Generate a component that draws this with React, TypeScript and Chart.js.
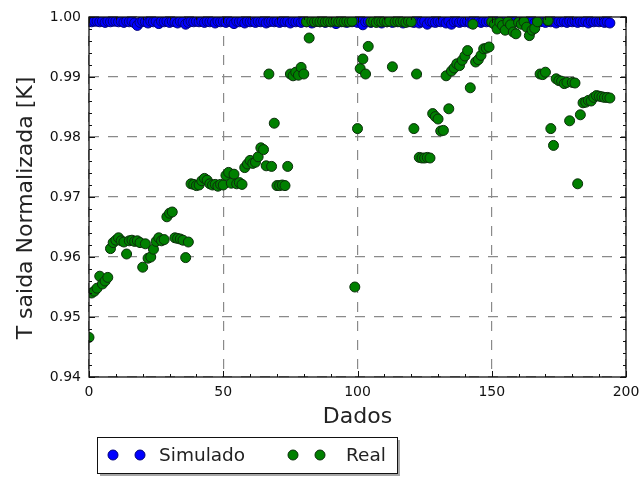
import React, { useEffect, useRef } from "react";
import { Chart, registerables } from "chart.js";

Chart.register(...registerables);

// Simulated normalized outlet temperature, one value per sample (index = sample number)
const simulado: number[] = [
  0.9993, 0.9992, 0.9993, 0.9993, 0.9992, 0.9993, 0.9991, 0.9993, 0.9992, 0.9993,
  0.9993, 0.9992, 0.9993, 0.9991, 0.9993, 0.9992, 0.9993, 0.999, 0.9986, 0.9991,
  0.9993, 0.9992, 0.999, 0.9993, 0.9992, 0.9993, 0.9989, 0.9993, 0.9992, 0.9993,
  0.9991, 0.9993, 0.9992, 0.999, 0.9993, 0.9992, 0.9988, 0.9991, 0.9993, 0.9992,
  0.9993, 0.9992, 0.9993, 0.9991, 0.9993, 0.9992, 0.9993, 0.999, 0.9993, 0.9992,
  0.9993, 0.9991, 0.9993, 0.9992, 0.9989, 0.9993, 0.9992, 0.9993, 0.999, 0.9993,
  0.9992, 0.9993, 0.9991, 0.9993, 0.9992, 0.9993, 0.999, 0.9992, 0.9993, 0.9992,
  0.9993, 0.9991, 0.9993, 0.9992, 0.9993, 0.999, 0.9993, 0.9992, 0.9993, 0.9991,
  0.9993, 0.9992, 0.9993, 0.999, 0.9992, 0.9993, 0.9992, 0.9993, 0.9991, 0.9993,
  0.9992, 0.9993, 0.9989, 0.9993, 0.9992, 0.9993, 0.9991, 0.9993, 0.9992, 0.9993,
  0.9991, 0.9993, 0.9987, 0.9992, 0.9993, 0.9991, 0.9993, 0.9992, 0.9993, 0.999,
  0.9993, 0.9992, 0.9993, 0.9991, 0.9993, 0.9992, 0.9993, 0.999, 0.9993, 0.9992,
  0.9993, 0.9991, 0.9993, 0.999, 0.9992, 0.9993, 0.9988, 0.9993, 0.9992, 0.9991,
  0.9993, 0.9992, 0.9993, 0.999, 0.9993, 0.9988, 0.9992, 0.9993, 0.9991, 0.9993,
  0.9992, 0.9993, 0.999, 0.9993, 0.9992, 0.9993, 0.9991, 0.9993, 0.9992, 0.9993,
  0.9991, 0.9993, 0.9992, 0.9993, 0.999, 0.9993, 0.9992, 0.9993, 0.9991, 0.9993,
  0.9992, 0.9993, 0.9991, 0.9993, 0.9992, 0.9993, 0.999, 0.9993, 0.9992, 0.9993,
  0.9991, 0.9993, 0.9992, 0.9993, 0.999, 0.9993, 0.9992, 0.9993, 0.9991, 0.9993,
  0.9992, 0.9993, 0.9991, 0.9993, 0.9992, 0.9993, 0.999, 0.9993, 0.9992, 0.9993,
  0.9992, 0.9993, 0.9991, 0.9992, 0.999,
];

// Measured normalized outlet temperature
const real: number[] = [
  0.9466, 0.954, 0.9543, 0.9548, 0.9568, 0.9555, 0.956, 0.9566, 0.9614, 0.9624,
  0.9628, 0.9632, 0.9627, 0.9625, 0.9605, 0.9627, 0.9628, 0.9626, 0.9627, 0.9624,
  0.9583, 0.9622, 0.9598, 0.96, 0.9613, 0.9626, 0.9632, 0.9627, 0.9629, 0.9667,
  0.9673, 0.9675, 0.9632, 0.9631, 0.963, 0.9628, 0.9599, 0.9625, 0.9722, 0.9721,
  0.9719, 0.972, 0.9727, 0.9731, 0.9728, 0.9722, 0.972, 0.9721, 0.9718, 0.9721,
  0.972, 0.9736, 0.9741, 0.9723, 0.9738, 0.9722, 0.9724, 0.9721, 0.9749, 0.9755,
  0.9761, 0.9756, 0.9758, 0.9767, 0.9782, 0.9779, 0.9752, 0.9905, 0.9751, 0.9823,
  0.9719, 0.9719, 0.972, 0.9719, 0.9751, 0.9905, 0.9902, 0.9908, 0.9903, 0.9916,
  0.9905, 0.9992, 0.9965, 0.9993, 0.9992, 0.9993, 0.9992, 0.9993, 0.9992, 0.9993,
  0.9992, 0.9993, 0.9993, 0.9992, 0.9993, 0.9992, 0.9993, 0.9992, 0.9993, 0.955,
  0.9814, 0.9914, 0.993, 0.9905, 0.9951, 0.9992, 0.9993, 0.9991, 0.9993, 0.9992,
  0.9993, 0.9992, 0.9993, 0.9917, 0.9992, 0.9993, 0.9992, 0.9993, 0.9991, 0.9993,
  0.9992, 0.9814, 0.9905, 0.9766, 0.9765, 0.9765, 0.9766, 0.9765, 0.9839, 0.9834,
  0.983, 0.981, 0.9811, 0.9902, 0.9847, 0.991, 0.9915, 0.9922, 0.9919, 0.9928,
  0.9935, 0.9944, 0.9882, 0.9988, 0.9925, 0.9929, 0.9936, 0.9947, 0.9948, 0.995,
  0.9992, 0.9988, 0.998, 0.9991, 0.9986, 0.9978, 0.9992, 0.9987, 0.9975, 0.9972,
  0.9991, 0.9988, 0.9992, 0.9983, 0.9969, 0.9978, 0.9981, 0.9992, 0.9905, 0.9904,
  0.9908, 0.9994, 0.9814, 0.9786, 0.9897, 0.9894, 0.9893, 0.9889, 0.9891, 0.9827,
  0.9891, 0.989, 0.9722, 0.9837, 0.9857, 0.9858, 0.9861, 0.986, 0.9866, 0.9869,
  0.9868, 0.9867, 0.9866, 0.9866, 0.9865,
];

const seriesLabels = ["Simulado", "Real"];
const seriesColors = ["#0000ff", "#008000"];
const seriesEdges = ["#00007a", "#0b2e0b"];
const xTitle = "Dados";
const yTitle = "T saida Normalizada [K]";
const xRange = [0, 200];
const yRange = [0.94, 1.0];

const FONT = "'DejaVu Sans', 'Bitstream Vera Sans', sans-serif";

// Frame, inward tick marks, rotated y title and the boxed legend under the axes
const decorations = {
  id: "decorations",
  afterDatasetsDraw(chart: any) {
    const { ctx, chartArea: a, scales } = chart;
    const xs = scales.x;
    const ys = scales.y;
    ctx.save();
    ctx.strokeStyle = "#111";
    ctx.lineWidth = 1;
    ctx.beginPath();
    for (let k = 0; k <= 20; k++) {
      const px = Math.round(xs.getPixelForValue(k * 10)) + 0.5;
      const len = k % 5 === 0 ? 6 : 3;
      ctx.moveTo(px, a.bottom);
      ctx.lineTo(px, a.bottom - len);
      ctx.moveTo(px, a.top);
      ctx.lineTo(px, a.top + len);
    }
    for (let k = 0; k <= 30; k++) {
      const py = Math.round(ys.getPixelForValue(0.94 + k * 0.002)) + 0.5;
      const len = k % 5 === 0 ? 6 : 3;
      ctx.moveTo(a.left, py);
      ctx.lineTo(a.left + len, py);
      ctx.moveTo(a.right, py);
      ctx.lineTo(a.right - len, py);
    }
    ctx.stroke();
    ctx.lineWidth = 1.3;
    ctx.strokeRect(a.left, a.top, a.right - a.left, a.bottom - a.top);
    ctx.restore();
  },
  afterDraw(chart: any) {
    const { ctx } = chart;
    ctx.save();
    // y axis title
    ctx.fillStyle = "#222";
    ctx.font = `22px ${FONT}`;
    ctx.textAlign = "center";
    ctx.textBaseline = "middle";
    ctx.translate(26, 208);
    ctx.rotate(-Math.PI / 2);
    ctx.fillText(yTitle, 0, 0);
    ctx.restore();

    // legend box with shadow
    ctx.save();
    const bx = 97, by = 437, bw = 300, bh = 36;
    ctx.fillStyle = "rgba(0,0,0,0.35)";
    ctx.fillRect(bx + 3, by + 3, bw, bh);
    ctx.fillStyle = "#fff";
    ctx.fillRect(bx, by, bw, bh);
    ctx.strokeStyle = "#111";
    ctx.lineWidth = 1;
    ctx.strokeRect(bx + 0.5, by + 0.5, bw, bh);
    const my = 455;
    const entries = [
      { m: [113, 140], tx: 159 },
      { m: [293, 320], tx: 346 },
    ];
    entries.forEach((e, i) => {
      e.m.forEach((mx) => {
        ctx.beginPath();
        ctx.arc(mx, my, 5, 0, Math.PI * 2);
        ctx.fillStyle = seriesColors[i];
        ctx.fill();
        ctx.strokeStyle = seriesEdges[i];
        ctx.lineWidth = 1;
        ctx.stroke();
      });
      ctx.fillStyle = "#222";
      ctx.font = `18.5px ${FONT}`;
      ctx.textAlign = "left";
      ctx.textBaseline = "middle";
      ctx.fillText(seriesLabels[i], e.tx, my + 1);
    });
    ctx.restore();
  },
};

export default function App() {
  const canvasRef = useRef<HTMLCanvasElement | null>(null);

  useEffect(() => {
    const canvas = canvasRef.current;
    if (!canvas) return;
    const series = [simulado, real];
    const chart = new Chart(canvas, {
      type: "scatter",
      data: {
        datasets: series.map((vals, i) => ({
          label: seriesLabels[i],
          data: vals.map((v, idx) => ({ x: idx, y: v })),
          backgroundColor: seriesColors[i],
          borderColor: seriesEdges[i],
          borderWidth: 1,
          pointRadius: 5,
          pointHoverRadius: 5,
          order: i === 0 ? 1 : 0,
          clip: 0,
        })),
      },
      options: {
        animation: false,
        responsive: false,
        events: [],
        layout: { padding: { left: 0, top: 17, right: 14, bottom: 0 } },
        plugins: {
          legend: { display: false },
          tooltip: { enabled: false },
        },
        scales: {
          x: {
            type: "linear",
            min: xRange[0],
            max: xRange[1],
            afterFit: (s: any) => {
              s.height = 100;
              s.paddingLeft = 0;
              s.paddingRight = 0;
            },
            ticks: {
              stepSize: 50,
              padding: 7,
              color: "#111",
              font: { family: FONT, size: 14 },
              callback: (v: any) => String(v),
            },
            grid: {
              color: "#8a8a8a",
              lineWidth: 1.2,
              drawTicks: false,
            },
            border: { display: false, dash: [10, 9] },
            title: {
              display: true,
              text: xTitle,
              color: "#222",
              font: { family: FONT, size: 22 },
              padding: { top: 0, bottom: 47 },
            },
          },
          y: {
            type: "linear",
            min: yRange[0],
            max: yRange[1],
            afterFit: (s: any) => {
              s.width = 89;
              s.paddingTop = 0;
              s.paddingBottom = 0;
            },
            ticks: {
              stepSize: 0.01,
              padding: 8,
              color: "#111",
              font: { family: FONT, size: 14 },
              callback: (v: any) => Number(v).toFixed(2),
            },
            grid: {
              color: "#8a8a8a",
              lineWidth: 1.2,
              drawTicks: false,
            },
            border: { display: false, dash: [10, 9] },
          },
        },
      },
      plugins: [decorations],
    });
    return () => chart.destroy();
  }, []);

  return (
    <div style={{ position: "absolute", left: 0, top: 0, width: 640, height: 477, background: "#fff" }}>
      <canvas ref={canvasRef} width={640} height={477} style={{ width: 640, height: 477, display: "block" }} />
    </div>
  );
}
